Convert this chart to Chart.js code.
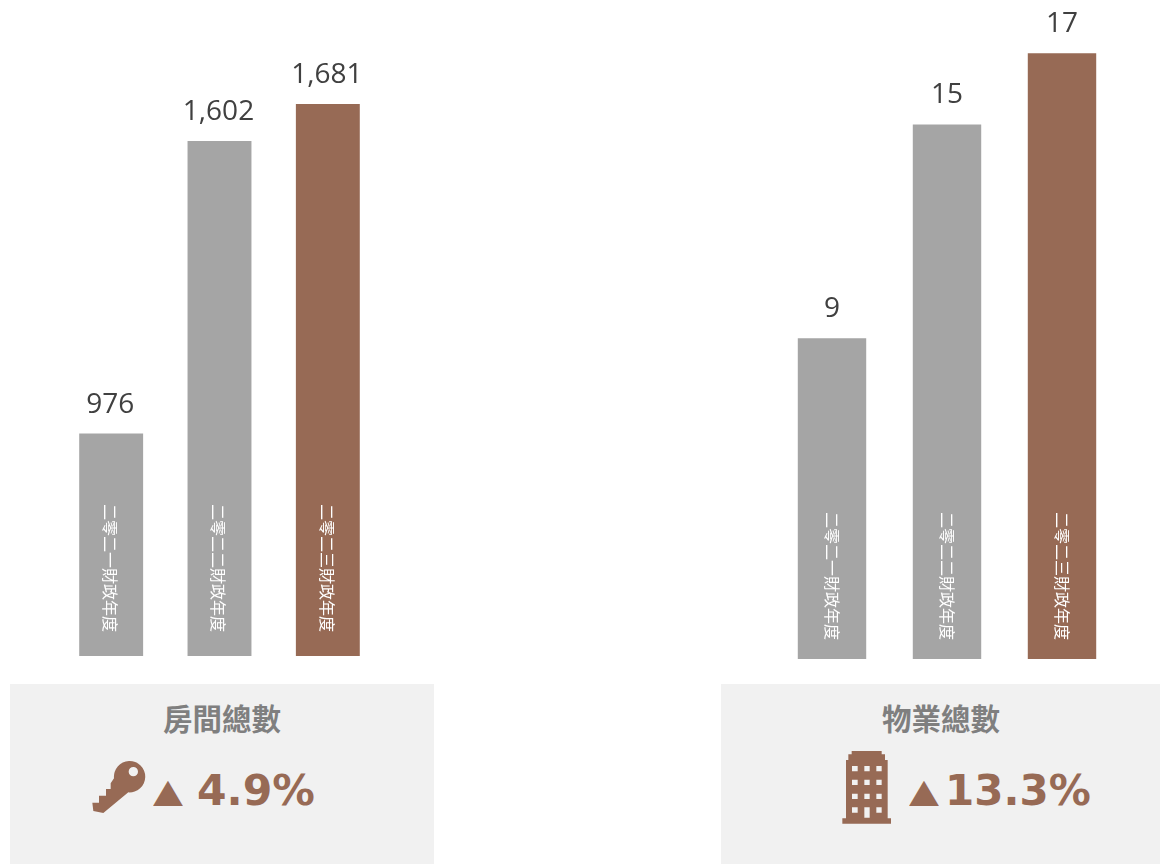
<!DOCTYPE html>
<html>
<head>
<meta charset="utf-8">
<script src="https://cdn.jsdelivr.net/npm/chart.js@4"></script>
<style>
  html, body { margin: 0; padding: 0; background: #fff; }
  #page { position: relative; width: 1160px; height: 865px; overflow: hidden; }
  canvas { position: absolute; top: 0; }
  .box { position: absolute; top: 684px; height: 180px; background: #f1f1f1; }
  .title, .change, .arrow { position: absolute; white-space: nowrap; }
  .title {
    top: 696px; font: bold 29.5px "Noto Sans CJK TC"; color: #7f7f7f;
    transform: translateX(-50%); line-height: 42px;
  }
  .change { top: 765px; font: bold 42.5px "DejaVu Sans"; color: #976a55; line-height: 52px; }
  .arrow {
    top: 765px; font: 39px "DejaVu Sans"; color: #976a55; line-height: 48px;
    transform: scaleY(0.85); transform-origin: 50% 75%;
  }
  svg { position: absolute; top: 675px; height: 190px; }
</style>
</head>
<body>
<div id="page">
  <div class="box" style="left:10px;width:424px"></div>
  <div class="box" style="left:721px;width:439px"></div>

  <canvas id="roomsChart" width="440" height="660" style="left:0"></canvas>
  <canvas id="hotelsChart" width="440" height="662" style="left:720px"></canvas>

  <div class="title" style="left:222px">房間總數</div>
  <div class="title" style="left:941px">物業總數</div>

  <!-- key icon -->
  <svg style="left:0;width:440px" viewBox="0 0 1320 570">
    <path fill="#976a55" fill-rule="evenodd" d="M342 310 A47 47 0 1 1 385 352 L310 414 L280 408 L277 383 L297 383 L297 362 L318 362 L318 342 L332 342 L332 325 Z M400 276 A14 14 0 1 0 400 304 A14 14 0 1 0 400 276 Z"/>
  </svg>
  <!-- building icon -->
  <svg style="left:715px;width:445px" viewBox="0 0 1335 570">
    <path fill="#976a55" fill-rule="evenodd" d="M410 228 H500 V238 H510 V255 H518 V430 H528 V446 H382 V430 H393 V255 H400 V238 H410 Z
      M411 273 V289 H428 V273 Z M448 273 V289 H464 V273 Z M484 273 V289 H500 V273 Z
      M411 314 V330 H428 V314 Z M448 314 V330 H464 V314 Z M484 314 V330 H500 V314 Z
      M411 356 V372 H428 V356 Z M448 356 V372 H464 V356 Z M484 356 V372 H500 V356 Z
      M411 397 V413 H428 V397 Z M448 397 V428 H464 V397 Z M484 397 V413 H500 V397 Z"/>
  </svg>

  <div class="arrow" style="left:153px">▲</div>
  <div class="change" style="left:197px">4.9%</div>
  <div class="arrow" style="left:909px">▲</div>
  <div class="change" style="left:945px;font-size:42px">13.3%</div>
</div>

<script>
const years = ['二零二一財政年度', '二零二二財政年度', '二零二三財政年度'];
const rooms = [976, 1602, 1681];
const hotels = [9, 15, 17];
const barColors = ['#a5a5a5', '#a5a5a5', '#976a55'];

// value above each bar, year running down inside it
const barText = {
  id: 'barText',
  afterDatasetsDraw(chart, args, opts) {
    const c = chart.ctx;
    const bars = chart.getDatasetMeta(0).data;
    const base = chart.scales.y.bottom;
    bars.forEach((bar, i) => {
      const value = chart.data.datasets[0].data[i];
      c.save();
      c.fillStyle = '#404040';
      c.font = '28px "Open Sans"';
      c.textAlign = 'center';
      c.textBaseline = 'middle';
      c.fillText(value.toLocaleString('en-US'), bar.x + opts.valueShift, bar.y - 29);
      c.restore();

      c.save();
      c.translate(bar.x + opts.yearShift, base - opts.yearGap);
      c.rotate(Math.PI / 2);
      c.fillStyle = '#fff';
      c.font = '16px "Noto Sans CJK TC"';
      c.textAlign = 'right';
      c.textBaseline = 'middle';
      c.fillText(chart.data.labels[i], 0, 0);
      c.restore();
    });
  }
};

function makeChart(id, values, yMin, yMax, barPct, padding, textOpts) {
  return new Chart(document.getElementById(id).getContext('2d'), {
    type: 'bar',
    data: {
      labels: years,
      datasets: [{
        data: values,
        backgroundColor: barColors,
        barPercentage: barPct,
        categoryPercentage: 1
      }]
    },
    options: {
      responsive: false,
      animation: false,
      layout: { padding: padding },
      plugins: {
        legend: { display: false },
        tooltip: { enabled: false },
        barText: textOpts
      },
      scales: {
        x: { display: false },
        y: { display: false, min: yMin, max: yMax }
      }
    },
    plugins: [barText]
  });
}

makeChart('roomsChart', rooms, 500, 1800, 0.59,
  { left: 57, right: 58, top: 48.5, bottom: 4 },
  { valueShift: -1, yearShift: -1, yearGap: 24 });
makeChart('hotelsChart', hotels, 0, 18, 0.595,
  { left: 54.5, right: 40.5, top: 17.5, bottom: 3 },
  { valueShift: 0, yearShift: 0, yearGap: 19 });
</script>
</body>
</html>
